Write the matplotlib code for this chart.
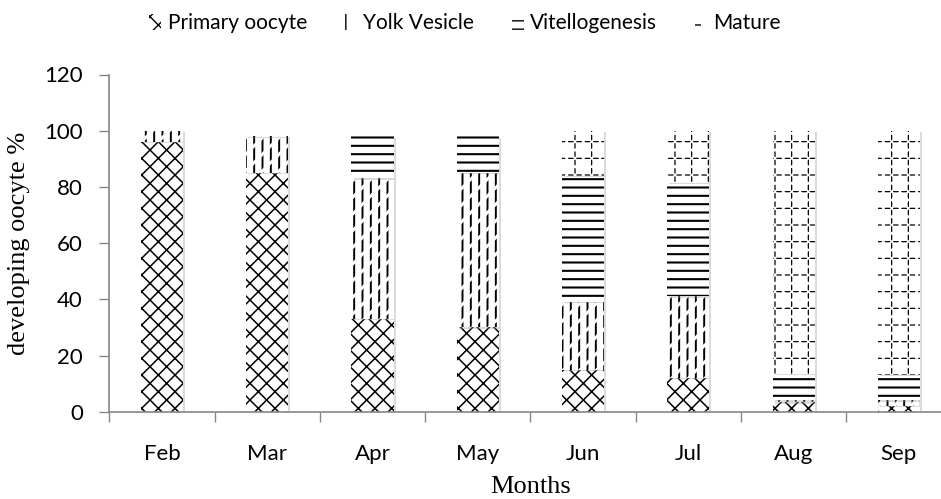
import numpy as np
import matplotlib
matplotlib.use("Agg")
import matplotlib.pyplot as plt
import matplotlib.patheffects as pe
from matplotlib.patches import Patch
from matplotlib.legend_handler import HandlerTuple

months = ["Feb", "Mar", "Apr", "May", "Jun", "Jul", "Aug", "Sep"]
primary = [96, 85, 33, 30, 15, 12, 3.4, 2.0]
yolk = [4, 13, 50, 55, 24, 29, 0.6, 2.0]
vitello = [0, 0.4, 15, 13, 45, 40.5, 9.4, 9.1]
mature = [0, 0, 0, 0, 16, 18.5, 86.6, 86.9]
yticks = [0, 20, 40, 60, 80, 100, 120]

stages = ["Primary oocyte", "Yolk Vesicle", "Vitellogenesis", "Mature"]
series = [primary, yolk, vitello, mature]
# (base hatch, base lw, overlay hatch or None, overlay lw)
# white overlay hatches cut the black lines into dashes / dots
styles = [("xx", 1.1, None, 0),
          ("||", 1.4, "//", 2.2),
          ("--", 1.5, None, 0),
          ("+", 0.9, "xxxx", 1.0)]

plt.rcParams['font.family'] = ['Lato', 'DejaVu Sans']
grey = "#868686"

fig = plt.figure(figsize=(9.41, 4.99), dpi=100)
ax = fig.add_axes([109.3 / 941, 1 - 411.7 / 499, (951.5 - 109.3) / 941, (411.7 - 74.5) / 499])

x = np.arange(len(months))
width = 0.40
bottom = np.zeros(len(months))
handles = []


def hatch_bar(xs, h, b, hatch, lw, color, face, shadow=False):
    with plt.rc_context({'hatch.linewidth': lw}):
        bars = ax.bar(xs, h, width, bottom=b, facecolor=face, edgecolor=color,
                      linewidth=0, hatch=hatch)
    for p in bars:
        if hasattr(p, "set_hatch_linewidth"):
            p.set_hatch_linewidth(lw)
        if shadow:
            p.set_path_effects([pe.SimplePatchShadow(offset=(1.5, -1.0), shadow_rgbFace="#999999",
                                                     alpha=0.35, hatch=None),
                                pe.Normal()])
    return bars


for vals, name, (h1, lw1, h2, lw2) in zip(series, stages, styles):
    vals = np.array(vals, dtype=float)
    hatch_bar(x, vals, bottom, h1, lw1, "black", "white", shadow=True)
    with plt.rc_context({'hatch.linewidth': lw1}):
        base = Patch(facecolor="white", edgecolor="black", linewidth=0, hatch=h1)
    hs = [base]
    if h2 is not None:
        hatch_bar(x, vals, bottom, h2, lw2, "white", "none")
        with plt.rc_context({'hatch.linewidth': lw2}):
            over = Patch(facecolor="none", edgecolor="white", linewidth=0, hatch=h2)
        hs.append(over)
    handles.append(tuple(hs))
    bottom += vals

ax.set_xlim(-0.5, len(months) - 0.5)
ax.set_ylim(0, 120)
ax.set_yticks(yticks)
ax.set_xticks(x)
ax.set_xticklabels(months)
ax.set_xticks(np.arange(len(months)) - 0.5, minor=True)
ax.tick_params(axis='x', which='major', length=0, pad=23, labelsize=16)
ax.tick_params(axis='x', which='minor', length=7, color=grey, width=1)
ax.tick_params(axis='y', length=7, color=grey, width=1, pad=12, labelsize=16)

for s in ["top", "right"]:
    ax.spines[s].set_visible(False)
for s in ["left", "bottom"]:
    ax.spines[s].set_color(grey)
    ax.spines[s].set_linewidth(1.2)

ax.set_ylabel("developing oocyte %", family="Liberation Serif", fontsize=19, labelpad=10)
ax.set_xlabel("Months", family="Liberation Serif", fontsize=19, labelpad=9)

fig.legend(handles, stages, loc="center", bbox_to_anchor=(465 / 941, 1 - 23 / 499),
           ncol=4, frameon=False, fontsize=15, handlelength=0.6, handleheight=0.8,
           handletextpad=0.3, columnspacing=1.8,
           handler_map={tuple: HandlerTuple(ndivide=None, pad=0)})

fig.savefig("out.png", dpi=100)
